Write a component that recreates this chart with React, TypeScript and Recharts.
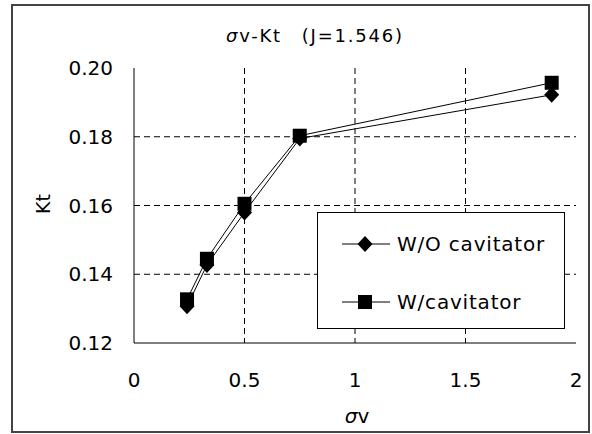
import React from "react";
import { LineChart, Line, XAxis, YAxis, CartesianGrid } from "recharts";

const sigmaV = [0.24, 0.33, 0.5, 0.75, 1.89];
const ktWithout = [0.1307, 0.1427, 0.158, 0.1795, 0.1922];
const ktWith = [0.1327, 0.1445, 0.1605, 0.1803, 0.1957];
const xTicks = [0, 0.5, 1, 1.5, 2];
const yTicks = [0.12, 0.14, 0.16, 0.18, 0.2];
const seriesNames = ["W/O cavitator", "W/cavitator"];

const data = sigmaV.map((s, i) => ({ s, without: ktWithout[i], with: ktWith[i] }));

const FONT = "'DejaVu Sans', sans-serif";

const Diamond = ({ cx, cy }: any) => (
  <path d={`M${cx},${cy - 8} L${cx + 7.5},${cy} L${cx},${cy + 8} L${cx - 7.5},${cy} Z`} fill="#000" />
);

const Square = ({ cx, cy }: any) => (
  <rect x={cx - 7} y={cy - 7} width={14} height={14} fill="#000" />
);

function LegendBox() {
  const row = (y: number, label: string, marker: "d" | "s") => (
    <g>
      <line x1={25} y1={y} x2={73} y2={y} stroke="#000" strokeWidth={1} />
      {marker === "d" ? <Diamond cx={48} cy={y} /> : <Square cx={48} cy={y} />}
      <text x={80} y={y + 7} fontSize={20} letterSpacing={0.8} fontFamily={FONT} fill="#000">
        {label}
      </text>
    </g>
  );
  return (
    <svg width={248} height={117} style={{ display: "block" }}>
      <rect x={0.5} y={0.5} width={247} height={116} fill="#fff" stroke="#000" />
      {row(32, seriesNames[0], "d")}
      {row(90, seriesNames[1], "s")}
    </svg>
  );
}

export default function App() {
  return (
    <div
      style={{
        position: "absolute",
        left: 0,
        top: 0,
        width: 592,
        height: 434,
        background: "#fff",
        fontFamily: FONT,
        color: "#000",
      }}
    >
      <div
        style={{
          position: "absolute",
          left: 11,
          top: 4,
          width: 575,
          height: 425,
          border: "2px solid #444",
        }}
      />
      <div
        style={{
          position: "absolute",
          left: 0,
          top: 24,
          width: 630,
          textAlign: "center",
          fontSize: 18,
          letterSpacing: 1.8,
        }}
      >
        <i>σ</i>v-Kt　(J=1.546)
      </div>
      <div
        style={{
          position: "absolute",
          left: 0,
          top: 404,
          width: 714,
          textAlign: "center",
          fontSize: 20,
        }}
      >
        <i>σ</i>v
      </div>
      <div
        style={{
          position: "absolute",
          left: 31,
          top: 193,
          width: 24,
          textAlign: "center",
          fontSize: 19,
          transform: "rotate(-90deg)",
          transformOrigin: "center",
        }}
      >
        Kt
      </div>
      <LineChart
        width={592}
        height={434}
        data={data}
        margin={{ top: 68, right: 16, left: 74, bottom: 61 }}
      >
        <CartesianGrid
          stroke="#000"
          strokeDasharray="6 4"
          horizontalValues={[0.14, 0.16, 0.18]}
          verticalValues={[0.5, 1, 1.5]}
        />
        <XAxis
          dataKey="s"
          type="number"
          domain={[0, 2]}
          ticks={xTicks}
          tickFormatter={(v) => String(v)}
          axisLine={{ stroke: "#000" }}
          tickLine={false}
          tickSize={0}
          tickMargin={30}
          height={30}
          tick={{ fill: "#000", fontSize: 20, fontFamily: FONT }}
        />
        <XAxis
          xAxisId="top"
          orientation="top"
          dataKey="s"
          type="number"
          domain={[0, 2]}
          tick={false}
          tickLine={false}
          axisLine={{ stroke: "#000" }}
          height={0}
        />
        <YAxis
          type="number"
          domain={[0.12, 0.2]}
          ticks={yTicks}
          tickFormatter={(v) => v.toFixed(2)}
          axisLine={{ stroke: "#000" }}
          tickLine={false}
          tickSize={0}
          tickMargin={21}
          width={60}
          tick={{ fill: "#000", fontSize: 20, fontFamily: FONT }}
        />
        <YAxis
          yAxisId="right"
          orientation="right"
          domain={[0.12, 0.2]}
          tick={false}
          tickLine={false}
          axisLine={{ stroke: "#000" }}
          width={0}
        />
        <Line
          dataKey="without"
          name={seriesNames[0]}
          stroke="#000"
          strokeWidth={1}
          dot={<Diamond />}
          activeDot={false}
          isAnimationActive={false}
        />
        <Line
          dataKey="with"
          name={seriesNames[1]}
          stroke="#000"
          strokeWidth={1}
          dot={<Square />}
          activeDot={false}
          isAnimationActive={false}
        />
      </LineChart>
      <div style={{ position: "absolute", left: 317, top: 212 }}>
        <LegendBox />
      </div>
    </div>
  );
}
